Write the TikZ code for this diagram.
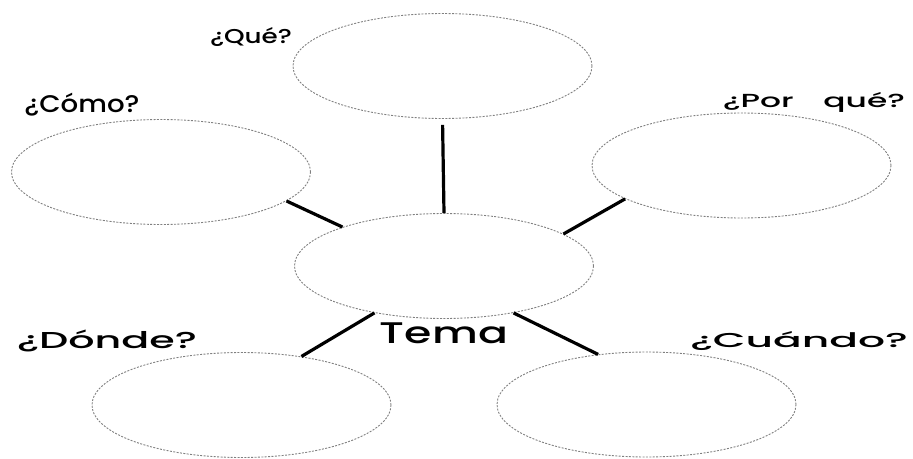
\documentclass[tikz,border=0pt]{standalone}
\usepackage{fontspec}
\setmainfont{Poppins}[BoldFont={* Medium}]
\usetikzlibrary{shapes.geometric}
\begin{document}
\begin{tikzpicture}[x=1pt,y=-1pt,
  bubble/.style={ellipse, draw=black!50, line width=0.9pt,
    dash pattern=on 2pt off 1.4pt, minimum width=299pt,
    minimum height=105pt, inner sep=0pt},
  link/.style={line width=3.2pt, black},
  tag/.style={inner sep=0pt, anchor=center, font=\bfseries}]
\useasboundingbox (0,0) rectangle (913,458);

% thought bubbles
\node[bubble] (que)    at (442.5,66)  {};
\node[bubble] (como)   at (161,172)   {};
\node[bubble] (porque) at (741.5,165.5) {};
\node[bubble] (tema)   at (444,266)   {};
\node[bubble] (donde)  at (241.5,405) {};
\node[bubble] (cuando) at (646.5,404.5) {};

% question labels
\node[tag] (tque)    at (251,37.5)  {\resizebox*{82pt}{19pt}{¿Qué?}};
\node[tag] (tcomo)   at (82,104.5)  {\resizebox*{115pt}{23pt}{¿Cómo?}};
\node[tag] (tporque) at (814,102) {\resizebox*{182pt}{20pt}{¿Por\hspace{0.9em}qué?}};
\node[tag] (ttema)   at (444,333.5) {\resizebox*{128pt}{21pt}{Tema}};
\node[tag] (tdonde)  at (107,341) {\resizebox*{180pt}{22pt}{¿Dónde?}};
\node[tag] (tcuando) at (799,341.5) {\resizebox*{218pt}{19pt}{¿Cuándo?}};

% spokes from the topic to each question
\draw[link, shorten <=6pt] (que.south) -- (tema.north);
\draw[link] (como.-13.6) -- (tema.159.9);
\draw[link] (tema.15.5) -- (porque.-164.2);
\draw[link] (tema.214.8) -- (donde.39.9);
\draw[link] (tema.-34.6) -- (cuando.134.4);
\end{tikzpicture}
\end{document}
